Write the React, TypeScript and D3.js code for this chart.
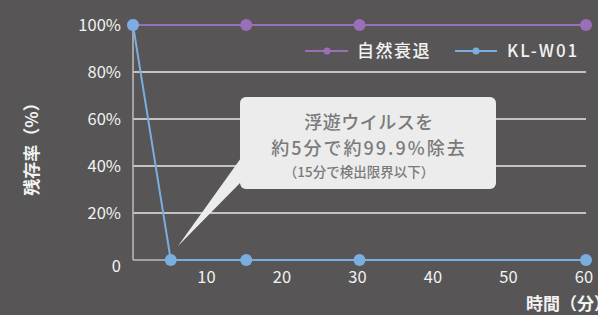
import React from "react";
import * as d3 from "d3";

const xTicks = [10, 20, 30, 40, 50, 60];
const yTicks = [0, 20, 40, 60, 80, 100];
const naturalX = [0, 15, 30, 60];
const naturalY = [100, 100, 100, 100];
const klX = [0, 5, 15, 30, 60];
const klY = [100, 0, 0, 0, 0];
const seriesNames = ["自然衰退", "KL-W01"];
const calloutLines = ["浮遊ウイルスを", "約5分で約99.9%除去", "（15分で検出限界以下）"];

const W = 598;
const H = 315;
const FONT = "'Noto Sans CJK JP', 'Noto Sans', sans-serif";
const PURPLE = "#9a6fb8";
const BLUE = "#7aaee0";
const BG = "#575556";
const TXT = "#f2f2f2";

export default function App() {
  const x = d3.scaleLinear().domain([0, 60]).range([133, 586]);
  const y = d3.scaleLinear().domain([0, 100]).range([260, 25]);
  const line = d3.line<[number, number]>().x(d => x(d[0])).y(d => y(d[1]));
  const nat: [number, number][] = naturalX.map((v, i) => [v, naturalY[i]]);
  const kl: [number, number][] = klX.map((v, i) => [v, klY[i]]);

  return (
    <svg width={W} height={H} style={{ position: "absolute", left: 0, top: 0, background: BG }} fontFamily={FONT}>
      <rect x={0} y={0} width={W} height={H} fill={BG} />
      {yTicks.filter(t => t > 0 && t < 100).map(t => (
        <line key={t} x1={x(0)} x2={586} y1={y(t)} y2={y(t)} stroke="#e8e8e8" strokeWidth={1.5} />
      ))}
      <line x1={x(0)} x2={x(0)} y1={y(100)} y2={y(0)} stroke="#bdbdbd" strokeWidth={1.5} />
      <line x1={x(0)} x2={586} y1={y(0)} y2={y(0)} stroke="#bdbdbd" strokeWidth={1.5} />
      {yTicks.map(t => (
        <text key={t} x={121} y={t === 0 ? y(t) + 12 : y(t) + 6} textAnchor="end" fontSize={16.5} fill={TXT} fontWeight={400}>
          {t === 0 ? "0" : `${t}%`}
        </text>
      ))}
      {xTicks.map(t => (
        <text key={t} x={x(t) - 2} y={283} textAnchor="middle" fontSize={16.5} fill={TXT} fontWeight={400}>
          {t}
        </text>
      ))}
      <text transform="translate(38,145) rotate(-90)" textAnchor="middle" fontSize={17} fill={TXT} fontWeight={700}>
        残存率（%）
      </text>
      <text x={526} y={310} fontSize={17} fill={TXT} fontWeight={700}>時間（分）</text>

      {/* callout */}
      <path d="M241,158 L178,246 L241,182 Z" fill="#ececec" />
      <rect x={240} y={97} width={256} height={92} rx={6} fill="#ececec" />
      <text x={369} y={129} textAnchor="middle" fontSize={18} fill="#7a7a7a" fontWeight={500} letterSpacing={0.5}>{calloutLines[0]}</text>
      <text x={369} y={155} textAnchor="middle" fontSize={18} fill="#7a7a7a" fontWeight={500} letterSpacing={2}>{calloutLines[1]}</text>
      <text x={359} y={177} textAnchor="middle" fontSize={13.5} fill="#7a7a7a" fontWeight={500}>{calloutLines[2]}</text>

      <path d={line(nat) || ""} fill="none" stroke={PURPLE} strokeWidth={2} />
      {nat.map((d, i) => <circle key={i} cx={x(d[0])} cy={y(d[1])} r={6} fill={PURPLE} />)}
      <path d={line(kl) || ""} fill="none" stroke={BLUE} strokeWidth={2} />
      {kl.map((d, i) => <circle key={i} cx={x(d[0])} cy={y(d[1])} r={6} fill={BLUE} />)}

      {/* legend */}
      <line x1={305} x2={348} y1={51} y2={51} stroke={PURPLE} strokeWidth={2} />
      <circle cx={327} cy={51} r={3.5} fill={PURPLE} />
      <text x={357} y={57} fontSize={17} fill={TXT} fontWeight={500} letterSpacing={1.5}>{seriesNames[0]}</text>
      <line x1={455} x2={497} y1={51} y2={51} stroke={BLUE} strokeWidth={2} />
      <circle cx={476} cy={51} r={3.5} fill={BLUE} />
      <text x={507} y={57} fontSize={17} fill={TXT} fontWeight={500} letterSpacing={2}>{seriesNames[1]}</text>
    </svg>
  );
}
